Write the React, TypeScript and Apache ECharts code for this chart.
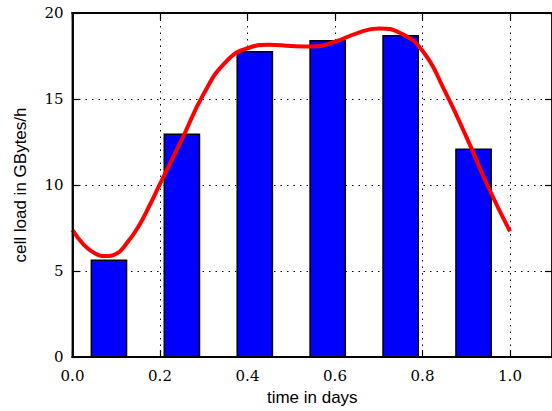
import React, { useEffect, useRef } from "react";
import * as echarts from "echarts";

// bar data
const barTimes = [0.0833, 0.25, 0.4167, 0.5833, 0.75, 0.9167];
const barLoads = [5.62, 12.95, 17.75, 18.38, 18.68, 12.08];
// smooth curve data
const curveTimes = [0, 0.025, 0.05, 0.075, 0.1, 0.125, 0.15, 0.175, 0.2, 0.25, 0.3, 0.35, 0.4, 0.45, 0.5, 0.55, 0.6, 0.65, 0.7, 0.75, 0.8, 0.85, 0.9, 0.95, 1.0];
const curveLoads = [7.38, 6.55, 6.05, 5.87, 6.0, 6.65, 7.55, 8.75, 10.06, 12.65, 15.3, 17.15, 17.95, 18.15, 18.08, 18.05, 18.33, 18.82, 19.1, 18.82, 17.8, 15.52, 12.81, 9.9, 7.3];
const xTicks = [0, 0.2, 0.4, 0.6, 0.8, 1.0];
const yTicks = [0, 5, 10, 15, 20];

const X_MAX = 1.096;
const BAR_WIDTH = 0.0805;
const SERIF = "'DejaVu Serif', 'Liberation Serif', serif";
const SANS = "'Liberation Sans', Arial, sans-serif";

export default function App() {
  const ref = useRef<HTMLDivElement>(null);
  useEffect(() => {
    if (!ref.current) return;
    const chart = echarts.init(ref.current, undefined, { renderer: "svg" });
    const gridLine = () => ({
      show: true,
      showMinLine: false,
      showMaxLine: false,
      lineStyle: { color: "#000", width: 1, type: [1.5, 5] as any },
    });
    const spine = () => ({ show: true, onZero: false, lineStyle: { color: "#000", width: 1.8, type: "solid" } });
    const tickIn = () => ({ show: true, inside: true, length: 7, lineStyle: { color: "#000", width: 1.2, type: "solid" } });
    chart.setOption({
      animation: false,
      backgroundColor: "#fff",
      grid: { left: 72.5, right: 0, top: 13, bottom: 54 },
      xAxis: [
        {
          type: "value",
          min: 0,
          max: X_MAX,
          interval: 0.2,
          position: "bottom",
          axisLine: spine(),
          axisTick: tickIn(),
          splitLine: gridLine(),
          axisLabel: {
            showMaxLabel: false,
            margin: 11,
            fontFamily: SERIF,
            fontSize: 15,
            color: "#000",
            formatter: (v: number) => (xTicks.some((t) => Math.abs(t - v) < 1e-6) ? v.toFixed(1) : ""),
          },
          name: "time in days",
          nameLocation: "middle",
          nameGap: 32,
          nameTextStyle: { fontFamily: SANS, fontSize: 17, color: "#000" },
        },
        {
          type: "value",
          min: 0,
          max: X_MAX,
          interval: 0.2,
          position: "top",
          axisLine: spine(),
          axisTick: tickIn(),
          splitLine: { show: false },
          axisLabel: { show: false },
        },
      ],
      yAxis: [
        {
          type: "value",
          min: 0,
          max: 20,
          interval: 5,
          position: "left",
          axisLine: spine(),
          axisTick: tickIn(),
          splitLine: gridLine(),
          axisLabel: {
            margin: 9,
            fontFamily: SERIF,
            fontSize: 15,
            color: "#000",
            formatter: (v: number) => (yTicks.includes(v) ? String(v) : ""),
          },
          name: "cell load in GBytes/h",
          nameLocation: "middle",
          nameGap: 44,
          nameTextStyle: { fontFamily: SANS, fontSize: 17, color: "#000" },
        },
        {
          type: "value",
          min: 0,
          max: 20,
          interval: 5,
          position: "right",
          axisLine: spine(),
          axisTick: tickIn(),
          splitLine: { show: false },
          axisLabel: { show: false },
        },
      ],
      series: [
        {
          type: "custom",
          z: 1,
          xAxisIndex: 0,
          yAxisIndex: 0,
          data: barTimes.map((t, i) => [t, barLoads[i]]),
          renderItem: (params: any, api: any) => {
            const x = api.value(0);
            const v = api.value(1);
            const p0 = api.coord([x - BAR_WIDTH / 2, v]);
            const p1 = api.coord([x + BAR_WIDTH / 2, 0]);
            return {
              type: "rect",
              shape: { x: p0[0], y: p0[1], width: p1[0] - p0[0], height: p1[1] - p0[1] },
              style: { fill: "#0000ff", stroke: "#000", lineWidth: 1.5 },
            };
          },
        },
        {
          type: "line",
          z: 5,
          xAxisIndex: 0,
          yAxisIndex: 0,
          data: curveTimes.map((t, i) => [t, curveLoads[i]]),
          smooth: 0.5,
          showSymbol: false,
          symbol: "none",
          lineStyle: { color: "#ff0000", width: 4 },
        },
        {
          // plot frame (spines) drawn as thin filled bands along the grid rectangle
          type: "custom",
          z: 6,
          silent: true,
          clip: false,
          xAxisIndex: 0,
          yAxisIndex: 0,
          data: [[0, 0]],
          renderItem: (params: any) => {
            const r = params.coordSys;
            const t = 1.8;
            const fill = { fill: "#000", stroke: null };
            return {
              type: "group",
              children: [
                { type: "rect", shape: { x: r.x - t / 2, y: r.y - t / 2, width: t, height: r.height + t }, style: fill },
                { type: "rect", shape: { x: r.x - t / 2, y: r.y - t / 2, width: r.width + t, height: t }, style: fill },
                { type: "rect", shape: { x: r.x - t / 2, y: r.y + r.height - t / 2, width: r.width + t, height: t }, style: fill },
              ],
            };
          },
        },
      ],
    });
    return () => chart.dispose();
  }, []);
  return <div ref={ref} style={{ position: "fixed", left: 0, top: 0, width: 552, height: 411 }} />;
}
